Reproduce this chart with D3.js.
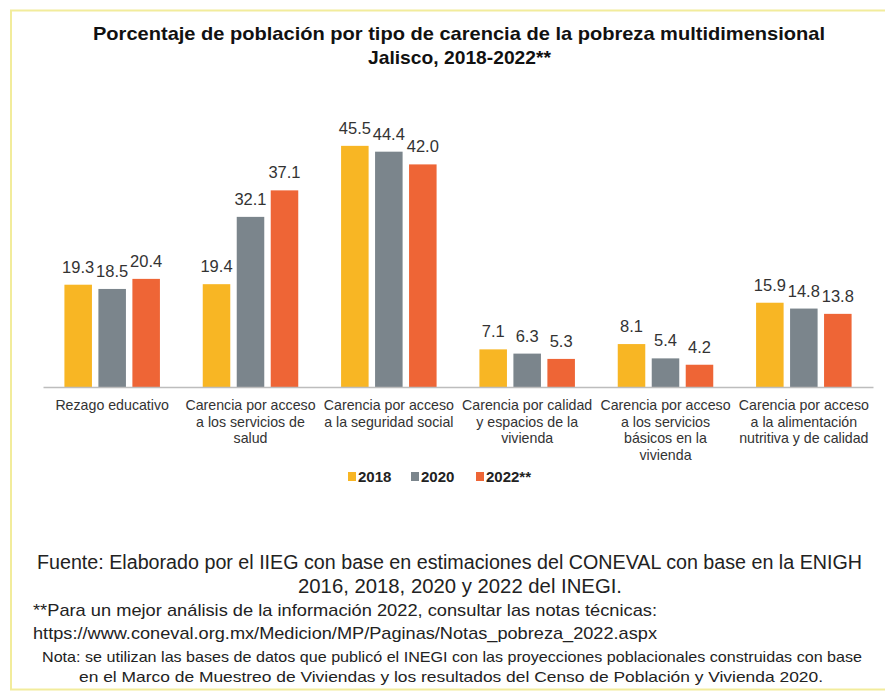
<!DOCTYPE html>
<html>
<head>
<meta charset="utf-8">
<script src="https://cdn.jsdelivr.net/npm/d3@7"></script>
<style>
  html, body { margin: 0; padding: 0; background: #fff; }
  svg { display: block; font-family: "Liberation Sans", Arial, sans-serif; }
</style>
</head>
<body>
<svg id="chart" width="885" height="698"></svg>
<script>
// ---- Data ----
const categories = [
  ["Rezago educativo"],
  ["Carencia por acceso", "a los servicios de", "salud"],
  ["Carencia por acceso", "a la seguridad social"],
  ["Carencia por calidad", "y espacios de la", "vivienda"],
  ["Carencia por acceso", "a los servicios", "básicos en la", "vivienda"],
  ["Carencia por acceso", "a la alimentación", "nutritiva y de calidad"]
];
const seriesNames = ["2018", "2020", "2022**"];
const values2018 = [19.3, 19.4, 45.5, 7.1, 8.1, 15.9];
const values2020 = [18.5, 32.1, 44.4, 6.3, 5.4, 14.8];
const values2022 = [20.4, 37.1, 42.0, 5.3, 4.2, 13.8];
const seriesColors = ["#F8B624", "#7B858C", "#EE6536"];
const titleLines = [
  "Porcentaje de población por tipo de carencia de la pobreza multidimensional",
  "Jalisco, 2018-2022**"
];
const footerLines = [
  "Fuente: Elaborado por el IIEG con base en estimaciones del CONEVAL con base en la ENIGH",
  "2016, 2018, 2020 y 2022 del INEGI.",
  "**Para un mejor análisis de la información 2022, consultar las notas técnicas:",
  "https://www.coneval.org.mx/Medicion/MP/Paginas/Notas_pobreza_2022.aspx",
  "Nota: se utilizan las bases de datos que publicó el INEGI con las proyecciones poblacionales construidas con base",
  "en el Marco de Muestreo de Viviendas y los resultados del Censo de Población y Vivienda 2020."
];

const seriesValues = [values2018, values2020, values2022];
const svg = d3.select("#chart");

// Frame
svg.append("rect").attr("x", 0).attr("y", 0).attr("width", 885).attr("height", 698).attr("fill", "#fff");
svg.append("rect")
  .attr("x", 11).attr("y", 10.5).attr("width", 890).attr("height", 679)
  .attr("fill", "none").attr("stroke", "#F2EC9C").attr("stroke-width", 2);

function fit(sel, w) {
  sel.attr("textLength", w).attr("lengthAdjust", "spacingAndGlyphs");
}

// Title
const titleSpec = [
  { x: 93, w: 732, y: 40 },
  { x: 368, w: 183, y: 64 }
];
titleLines.forEach((t, i) => {
  const s = svg.append("text")
    .attr("x", titleSpec[i].x).attr("y", titleSpec[i].y)
    .attr("font-size", 18.5).attr("font-weight", "bold").attr("fill", "#111")
    .text(t);
  fit(s, titleSpec[i].w);
});

// Scales
const plotLeft = 43, plotRight = 873, baseY = 387;
const x0 = d3.scaleBand().domain(d3.range(categories.length)).range([plotLeft, plotRight]).padding(0);
const x1 = d3.scaleBand().domain(seriesNames).range([0, x0.bandwidth()]).paddingInner(0.19).paddingOuter(0.63);
const y = d3.scaleLinear().domain([0, 50]).range([baseY, baseY - 265]);

// Bars
const groups = svg.append("g").selectAll("g")
  .data(categories.map((c, i) => i))
  .join("g")
  .attr("transform", i => `translate(${x0(i)},0)`);

groups.selectAll("rect")
  .data(i => seriesNames.map((s, k) => ({ s, k, v: seriesValues[k][i] })))
  .join("rect")
  .attr("x", d => x1(d.s))
  .attr("y", d => y(d.v))
  .attr("width", x1.bandwidth())
  .attr("height", d => baseY - y(d.v))
  .attr("fill", d => seriesColors[d.k]);

groups.selectAll("text.val")
  .data(i => seriesNames.map((s, k) => ({ s, k, v: seriesValues[k][i] })))
  .join("text")
  .attr("class", "val")
  .attr("x", d => x1(d.s) + x1.bandwidth() / 2)
  .attr("y", d => y(d.v) - 12)
  .attr("text-anchor", "middle")
  .attr("font-size", 16.5)
  .attr("fill", "#333")
  .text(d => d3.format(".1f")(d.v));

// Axis baseline
const xAxis = d3.axisBottom(x0).tickSize(0).tickFormat("");
const axG = svg.append("g").attr("transform", `translate(0,${baseY})`).call(xAxis);
axG.select(".domain").attr("stroke", "#BDBDBD").attr("stroke-width", 1.5);

// Category labels
categories.forEach((lines, i) => {
  const t = svg.append("text")
    .attr("x", x0(i) + x0.bandwidth() / 2)
    .attr("y", 410)
    .attr("text-anchor", "middle")
    .attr("font-size", 14.2)
    .attr("fill", "#333");
  lines.forEach((ln, j) => {
    t.append("tspan").attr("x", x0(i) + x0.bandwidth() / 2).attr("dy", j === 0 ? 0 : 16.5).text(ln);
  });
});

// Legend
const legendX = [348, 411, 476];
const legend = svg.append("g");
seriesNames.forEach((s, k) => {
  legend.append("rect").attr("x", legendX[k]).attr("y", 472).attr("width", 8).attr("height", 9).attr("fill", seriesColors[k]);
  legend.append("text").attr("x", legendX[k] + 10).attr("y", 482)
    .attr("font-size", 15).attr("font-weight", "bold").attr("fill", "#222").text(s);
});

// Footer
const footerSpec = [
  { x: 37, w: 825, y: 569, fs: 19.5 },
  { x: 298, w: 324, y: 593, fs: 19.5 },
  { x: 33, w: 624, y: 616, fs: 17 },
  { x: 33, w: 624, y: 639, fs: 17 },
  { x: 42, w: 820, y: 662, fs: 14.5 },
  { x: 79, w: 744, y: 682, fs: 14.5 }
];
footerLines.forEach((t, i) => {
  const sp = footerSpec[i];
  const s = svg.append("text").attr("x", sp.x).attr("y", sp.y)
    .attr("font-size", sp.fs).attr("fill", "#222").text(t);
  fit(s, sp.w);
});
</script>
</body>
</html>
